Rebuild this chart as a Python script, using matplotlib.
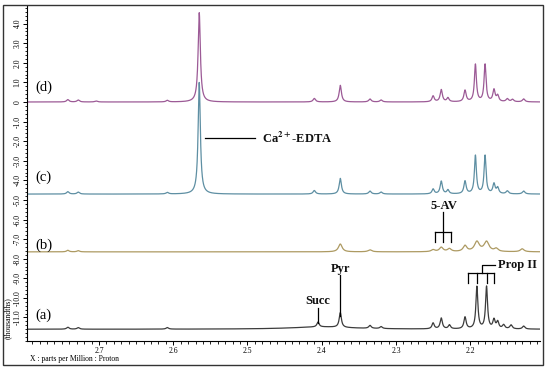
import numpy as np
import matplotlib
matplotlib.use('Agg')
import matplotlib.pyplot as plt
from matplotlib.patches import Rectangle
from matplotlib.ticker import MultipleLocator, FixedLocator

plt.rcParams['font.family'] = ['Liberation Serif', 'DejaVu Serif']
plt.rcParams['mathtext.fontset'] = 'stix'

# Peak tables: (ppm, height in thousandths, half width in ppm)
peaks_d = [(2.742, 0.12, 0.002), (2.728, 0.10, 0.002), (2.704, 0.05, 0.002), (2.608, 0.08, 0.002),
           (2.565, 4.56, 0.0018), (2.410, 0.18, 0.002), (2.375, 0.85, 0.0018), (2.335, 0.15, 0.002),
           (2.320, 0.10, 0.002), (2.250, 0.30, 0.0018), (2.239, 0.62, 0.0018), (2.230, 0.20, 0.0018),
           (2.207, 0.58, 0.0018), (2.193, 1.90, 0.0016), (2.180, 1.90, 0.0016), (2.168, 0.60, 0.0018),
           (2.163, 0.30, 0.0018), (2.150, 0.15, 0.002), (2.143, 0.12, 0.002), (2.128, 0.15, 0.002)]
peaks_c = [(2.742, 0.12, 0.002), (2.728, 0.10, 0.002), (2.608, 0.08, 0.002),
           (2.565, 5.70, 0.0018), (2.410, 0.18, 0.002), (2.375, 0.80, 0.0018), (2.335, 0.15, 0.002),
           (2.320, 0.10, 0.002), (2.250, 0.25, 0.0018), (2.239, 0.65, 0.0018), (2.230, 0.20, 0.0018),
           (2.207, 0.65, 0.0018), (2.193, 1.95, 0.0016), (2.180, 1.95, 0.0016), (2.168, 0.50, 0.0018),
           (2.163, 0.30, 0.0018), (2.150, 0.15, 0.002), (2.128, 0.15, 0.002)]
peaks_b = [(2.742, 0.08, 0.002), (2.728, 0.06, 0.002), (2.375, 0.40, 0.003), (2.335, 0.10, 0.003),
           (2.250, 0.10, 0.003), (2.239, 0.22, 0.003), (2.228, 0.15, 0.003), (2.207, 0.30, 0.003),
           (2.191, 0.50, 0.004), (2.178, 0.50, 0.004), (2.165, 0.15, 0.003), (2.130, 0.15, 0.003)]
peaks_a = [(2.742, 0.10, 0.002), (2.728, 0.08, 0.002), (2.608, 0.08, 0.002), (2.400, 0.12, 0.05),
           (2.405, 0.25, 0.0018), (2.375, 0.75, 0.0018), (2.335, 0.15, 0.002), (2.320, 0.10, 0.002),
           (2.250, 0.30, 0.0018), (2.239, 0.55, 0.0018), (2.228, 0.20, 0.0018), (2.207, 0.60, 0.0018),
           (2.191, 2.15, 0.0016), (2.178, 2.15, 0.0016), (2.168, 0.45, 0.0018), (2.163, 0.35, 0.0018),
           (2.155, 0.20, 0.002), (2.145, 0.20, 0.002), (2.128, 0.15, 0.002)]

offsets = [0.0, -4.7, -7.65, -11.6]
colors = ['#9c5a96', '#5e8fa3', '#ad9a62', '#3c3c3c']
labels = ['(d)', '(c)', '(b)', '(a)']
label_y = [0.77, -3.83, -7.3, -10.87]

ppm = np.linspace(2.80, 2.10, 5000)


def spectrum(peaks):
    y = np.zeros_like(ppm)
    for x0, h, w in peaks:
        y += h * w**2 / ((ppm - x0)**2 + w**2)
    return y


fig = plt.figure(figsize=(5.5, 3.69), dpi=100)
ax = fig.add_axes([27/550, 28/369, 513/550, 335/369])

for pk, off, col in zip([peaks_d, peaks_c, peaks_b, peaks_a], offsets, colors):
    ax.plot(ppm, spectrum(pk) + off, color=col, lw=0.9)

for lab, ly in zip(labels, label_y):
    ax.text(2.786, ly, lab, fontsize=10.5, va='center', ha='left')

ax.set_xlim(2.797, 2.106)
ax.set_ylim(-12.2, 4.9)

# annotations
bold = dict(fontsize=9, fontweight='bold', color='#111111')
ax.plot([2.557, 2.490], [-1.84, -1.84], color='k', lw=0.9)
ax.text(2.481, -1.84, r'Ca$^{\mathbf{2+}}$-EDTA', va='center', ha='left', **bold)

ax.plot([2.405, 2.405], [-10.5, -11.3], color='k', lw=0.9)
ax.text(2.405, -10.15, 'Succ', va='center', ha='center', **bold)
ax.plot([2.375, 2.375], [-8.83, -10.9], color='k', lw=0.9)
ax.text(2.374, -8.5, 'Pyr', va='center', ha='center', **bold)

ax.text(2.235, -5.3, '5-AV', va='center', ha='center', **bold)
ax.plot([2.237, 2.237], [-5.6, -6.63], color='k', lw=0.9)
ax.plot([2.248, 2.226], [-6.63, -6.63], color='k', lw=0.9)
for xt in [2.248, 2.237, 2.226]:
    ax.plot([xt, xt], [-6.63, -7.14], color='k', lw=0.9)

ax.plot([2.203, 2.168], [-8.72, -8.72], color='k', lw=0.9)
for xt in [2.203, 2.191, 2.178, 2.168]:
    ax.plot([xt, xt], [-8.72, -9.23], color='k', lw=0.9)
ax.plot([2.184, 2.184, 2.166], [-8.72, -8.32, -8.32], color='k', lw=0.9)
ax.text(2.162, -8.32, 'Prop II', va='center', ha='left', **bold)

# axes styling
for s in ['top', 'right']:
    ax.spines[s].set_visible(False)
ax.spines['left'].set_linewidth(0.8)
ax.spines['bottom'].set_linewidth(0.8)
ax.xaxis.set_major_locator(FixedLocator([2.7, 2.6, 2.5, 2.4, 2.3, 2.2]))
ax.xaxis.set_minor_locator(MultipleLocator(0.01))
ax.set_xticklabels(['2.7', '2.6', '2.5', '2.4', '2.3', '2.2'])
yt = list(range(4, -12, -1))
ax.yaxis.set_major_locator(FixedLocator(yt))
ax.yaxis.set_minor_locator(MultipleLocator(0.2))
ax.set_yticklabels(['0' if v == 0 else f'{v:.1f}' for v in yt], rotation=90, va='center')
ax.tick_params(axis='both', which='major', length=3, width=0.7, labelsize=5.5, pad=1)
ax.tick_params(axis='both', which='minor', length=1.8, width=0.6)

fig.text(30/550, 1 - 359/369, 'X : parts per Million : Proton', fontsize=5.5, va='center', ha='left')
fig.text(8/550, 1 - 318/369, '(thousandths)', fontsize=5.5, rotation=90, va='center', ha='center')

fig.patches.append(Rectangle((3/550, 1 - 365/369), 540/550, 360/369, transform=fig.transFigure,
                             fill=False, edgecolor='#333333', lw=1.0))

fig.savefig('out.png', dpi=100)
